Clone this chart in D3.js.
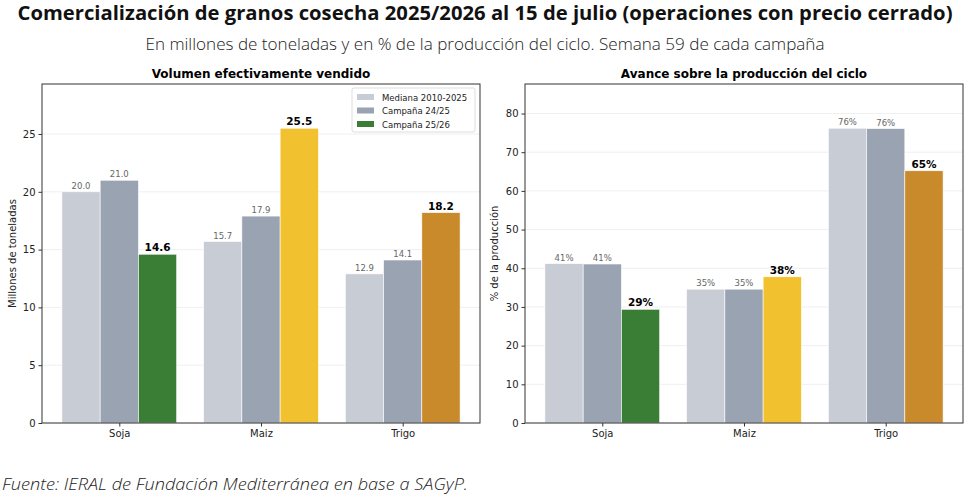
<!DOCTYPE html>
<html>
<head>
<meta charset="utf-8">
<script src="https://cdn.jsdelivr.net/npm/d3@7"></script>
<style>
  body { margin: 0; background: #fff; }
  svg { display: block; }
  .tick text { font-family: "DejaVu Sans", sans-serif; }
</style>
</head>
<body>
<svg id="chart" width="971" height="503"></svg>
<script>
var cultivos = ['Soja', 'Maiz', 'Trigo'];
var series = ['Mediana 2010-2025', 'Campaña 24/25', 'Campaña 25/26'];

// millones de toneladas
var volMediana = [20.0, 15.7, 12.9];
var vol2425 = [21.0, 17.9, 14.1];
var vol2526 = [14.6, 25.5, 18.2];

// % de la produccion
var pctMediana = [41.2, 34.6, 76.2];
var pct2425 = [41.1, 34.6, 76.1];
var pct2526 = [29.4, 37.8, 65.2];

var volTicks = [0, 5, 10, 15, 20, 25];
var pctTicks = [0, 10, 20, 30, 40, 50, 60, 70, 80];

var colorMediana = '#c8ccd5';
var color2425 = '#9aa3b2';
var colores2526 = ['#3a7d34', '#f2c12f', '#c98a2b'];

var svg = d3.select('#chart');

// titulos generales
svg.append('text')
    .attr('x', 485).attr('y', 20)
    .attr('text-anchor', 'middle')
    .attr('textLength', 935)
    .attr('lengthAdjust', 'spacingAndGlyphs')
    .style('font-family', '"Open Sans", sans-serif')
    .style('font-weight', 700)
    .style('font-size', '19px')
    .attr('fill', '#111')
    .text('Comercialización de granos cosecha 2025/2026 al 15 de julio (operaciones con precio cerrado)');

svg.append('text')
    .attr('x', 485).attr('y', 50)
    .attr('text-anchor', 'middle')
    .attr('textLength', 679)
    .attr('lengthAdjust', 'spacingAndGlyphs')
    .style('font-family', '"Open Sans", sans-serif')
    .style('font-weight', 300)
    .style('font-size', '15.5px')
    .attr('fill', '#222')
    .text('En millones de toneladas y en % de la producción del ciclo. Semana 59 de cada campaña');

svg.append('text')
    .attr('x', 2).attr('y', 490)
    .attr('textLength', 466)
    .attr('lengthAdjust', 'spacingAndGlyphs')
    .style('font-family', '"Open Sans", sans-serif')
    .style('font-style', 'italic')
    .style('font-weight', 300)
    .style('font-size', '16.5px')
    .attr('fill', '#222')
    .text('Fuente: IERAL de Fundación Mediterránea en base a SAGyP.');

function panel(opt) {
    var w = 438, h = 339;
    var g = svg.append('g').attr('transform', 'translate(' + opt.left + ',84)');

    var barW = 0.27;
    var x = d3.scaleLinear().domain([-0.5455, 2.5455]).range([0, w]);
    var ymax = d3.max(opt.actual.concat(opt.mediana, opt.previa)) * 1.15;
    var y = d3.scaleLinear().domain([0, ymax]).range([h, 0]);

    // grilla
    g.selectAll('.grid')
        .data(opt.ticks)
        .enter().append('line')
        .attr('x1', 0).attr('x2', w)
        .attr('y1', function(d) { return y(d); })
        .attr('y2', function(d) { return y(d); })
        .attr('stroke', '#ebebeb')
        .attr('stroke-width', 0.8);

    var datos = [];
    cultivos.forEach(function(c, i) {
        datos.push({ i: i, k: 0, v: opt.mediana[i], color: colorMediana });
        datos.push({ i: i, k: 1, v: opt.previa[i], color: color2425 });
        datos.push({ i: i, k: 2, v: opt.actual[i], color: colores2526[i] });
    });

    g.selectAll('.bar')
        .data(datos)
        .enter().append('rect')
        .attr('x', function(d) { return x(d.i + (d.k - 1) * barW - barW / 2); })
        .attr('width', x(barW) - x(0))
        .attr('y', function(d) { return y(d.v); })
        .attr('height', function(d) { return h - y(d.v); })
        .attr('fill', function(d) { return d.color; })
        .attr('stroke', '#fff')
        .attr('stroke-width', 0.6);

    g.selectAll('.lbl')
        .data(datos)
        .enter().append('text')
        .attr('x', function(d) { return x(d.i + (d.k - 1) * barW); })
        .attr('y', function(d) { return y(d.v) - 3; })
        .attr('text-anchor', 'middle')
        .style('font-family', '"DejaVu Sans", sans-serif')
        .style('font-size', function(d) { return d.k == 2 ? '10.5px' : '8.5px'; })
        .style('font-weight', function(d) { return d.k == 2 ? 700 : 400; })
        .attr('fill', function(d) { return d.k == 2 ? '#000' : '#666'; })
        .text(function(d) { return opt.fmt(d.v); });

    // ejes
    var ax = g.append('g')
        .attr('transform', 'translate(0,' + h + ')')
        .call(d3.axisBottom(x).tickValues([0, 1, 2]).tickFormat(function(d) { return cultivos[d]; })
            .tickSizeOuter(0).tickSize(3.5).tickPadding(3));
    var ay = g.append('g')
        .call(d3.axisLeft(y).tickValues(opt.ticks).tickSizeOuter(0).tickSize(3.5).tickPadding(3));
    [ax, ay].forEach(function(a) {
        a.select('.domain').remove();
        a.selectAll('.tick line').attr('stroke', '#333');
        a.selectAll('.tick text').attr('fill', '#222').style('font-size', '10px');
    });

    g.append('rect')
        .attr('width', w).attr('height', h)
        .attr('fill', 'none')
        .attr('stroke', '#333')
        .attr('stroke-width', 1);

    g.append('text')
        .attr('x', w / 2).attr('y', -6)
        .attr('text-anchor', 'middle')
        .style('font-family', '"DejaVu Sans", sans-serif')
        .style('font-weight', 700)
        .style('font-size', '12px')
        .text(opt.title);

    g.append('text')
        .attr('transform', 'translate(' + opt.ylabX + ',' + (h / 2) + ') rotate(-90)')
        .attr('text-anchor', 'middle')
        .style('font-family', '"DejaVu Sans", sans-serif')
        .style('font-size', '10px')
        .attr('fill', '#222')
        .text(opt.ylabel);

    return g;
}

var g1 = panel({
    left: 42, title: 'Volumen efectivamente vendido', ylabel: 'Millones de toneladas', ylabX: -26,
    mediana: volMediana, previa: vol2425, actual: vol2526, ticks: volTicks,
    fmt: function(v) { return v.toFixed(1); }
});

panel({
    left: 525, title: 'Avance sobre la producción del ciclo', ylabel: '% de la producción', ylabX: -27,
    mediana: pctMediana, previa: pct2425, actual: pct2526, ticks: pctTicks,
    fmt: function(v) { return v.toFixed(0) + '%'; }
});

// leyenda
var leg = g1.append('g').attr('transform', 'translate(310,4)');
leg.append('rect')
    .attr('width', 123).attr('height', 44)
    .attr('rx', 2)
    .attr('fill', '#fff').attr('fill-opacity', 0.8)
    .attr('stroke', '#ddd');
var legColors = [colorMediana, color2425, colores2526[0]];
series.forEach(function(s, i) {
    leg.append('rect')
        .attr('x', 5).attr('y', 6 + i * 13.5)
        .attr('width', 17).attr('height', 6)
        .attr('fill', legColors[i]);
    leg.append('text')
        .attr('x', 30).attr('y', 12.5 + i * 13.5)
        .style('font-family', '"DejaVu Sans", sans-serif')
        .style('font-size', '8.5px')
        .attr('fill', '#222')
        .text(s);
});
</script>
</body>
</html>
